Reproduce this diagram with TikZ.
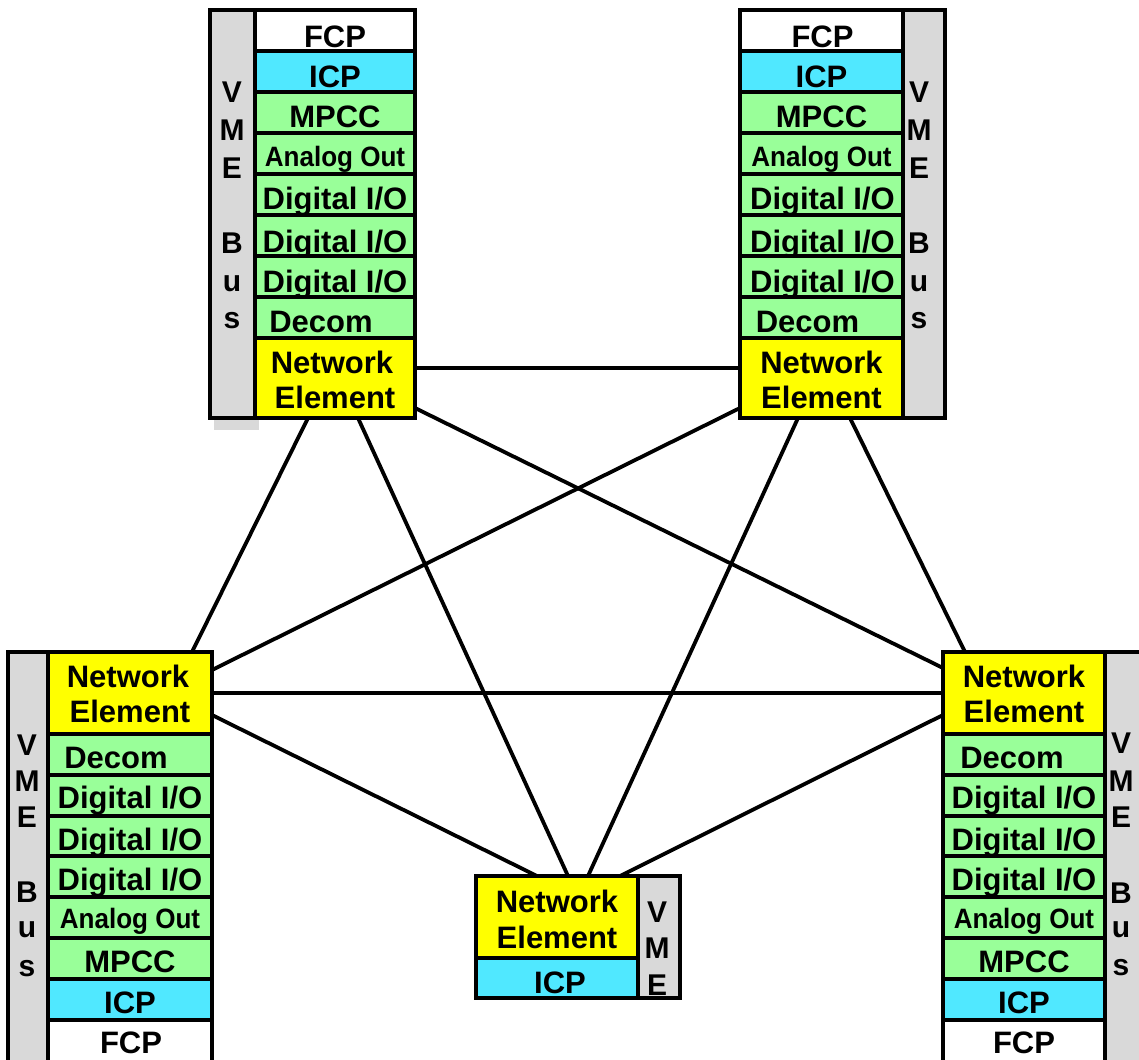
\documentclass[tikz,border=0pt]{standalone}
\usepackage{fontspec}
\usepackage{graphicx}
\setmainfont{Liberation Sans}
\usetikzlibrary{backgrounds}
\definecolor{fcpwhite}{RGB}{255,255,255}
\definecolor{icpcyan}{RGB}{80,232,255}
\definecolor{modgreen}{RGB}{153,255,153}
\definecolor{neyellow}{RGB}{255,255,0}
\definecolor{busgray}{RGB}{217,217,217}
\newcommand\cardfont{\fontsize{31}{37}\selectfont\bfseries}
\newcommand\anafont{\fontsize{28}{34}\selectfont\bfseries}
\newcommand\busfont{\fontsize{30}{36}\selectfont\bfseries}
\newcommand\ana{\scalebox{0.93}[1]{\anafont Analog Out}}
\tikzset{
  cardbox/.style={draw=black, line width=4.5pt, inner sep=0pt, outer sep=0pt},
  cardtxt/.style={font=\cardfont, inner sep=0pt, text=black},
  busbar/.style={draw=black, line width=4.5pt, fill=busgray, inner sep=0pt, outer sep=0pt, anchor=north west},
  busltr/.style={font=\busfont, inner sep=0pt, anchor=base},
  link/.style={line width=3.8pt, draw=black},
}
% name, x, ytop, width, height, fill, baseline offset, text, xshift
\newcommand\mkcard[9]{%
  \node[cardbox, fill=#6, minimum width=#4pt, minimum height=#5pt, anchor=north west] (#1) at (#2,#3) {};
  \node[cardtxt, anchor=base] (#1t) at ([xshift=#9pt, yshift=-#7pt]#1.north) {#8};}
\begin{document}
\begin{tikzpicture}[x=1pt, y=-1pt]
\useasboundingbox (0,0) rectangle (1139,1059);

% ---------- top-left stack ----------
\fill[busgray] (214,18) rectangle (259,430);
\node[busbar, minimum width=47pt, minimum height=408pt] (tlbus) at (210,10) {};
\foreach \l/\yy [count=\i] in {V/103,M/141,E/179,B/254,u/291,s/328}
  \node[busltr] (tlb\i) at (232,\yy) {\l};
\mkcard{tl1}{255}{10}{160}{41}{fcpwhite}{38}{FCP}{0}
\mkcard{tl2}{255}{51}{160}{41}{icpcyan}{37}{ICP}{0}
\mkcard{tl3}{255}{92}{160}{41}{modgreen}{36}{MPCC}{0}
\mkcard{tl4}{255}{133}{160}{41}{modgreen}{34}{\ana}{0}
\mkcard{tl5}{255}{174}{160}{41}{modgreen}{36}{Digital I/O}{0}
\mkcard{tl6}{255}{215}{160}{41}{modgreen}{37}{Digital I/O}{0}
\mkcard{tl7}{255}{256}{160}{41}{modgreen}{36}{Digital I/O}{0}
\mkcard{tl8}{255}{297}{160}{41}{modgreen}{35}{Decom}{-14}
\mkcard{tlne}{255}{338}{160}{80}{neyellow}{35}{Network}{-3}
\node[cardtxt, anchor=base] (tlnee) at ([yshift=-70pt]tlne.north) {Element};

% ---------- top-right stack ----------
\node[busbar, minimum width=44pt, minimum height=408pt] (trbus) at (901,10) {};
\foreach \l/\yy [count=\i] in {V/103,M/141,E/179,B/254,u/291,s/328}
  \node[busltr] (trb\i) at (919,\yy) {\l};
\mkcard{tr1}{740}{10}{163}{41}{fcpwhite}{38}{FCP}{1}
\mkcard{tr2}{740}{51}{163}{41}{icpcyan}{37}{ICP}{0}
\mkcard{tr3}{740}{92}{163}{41}{modgreen}{36}{MPCC}{0}
\mkcard{tr4}{740}{133}{163}{41}{modgreen}{34}{\ana}{0}
\mkcard{tr5}{740}{174}{163}{41}{modgreen}{36}{Digital I/O}{1}
\mkcard{tr6}{740}{215}{163}{41}{modgreen}{37}{Digital I/O}{1}
\mkcard{tr7}{740}{256}{163}{41}{modgreen}{36}{Digital I/O}{1}
\mkcard{tr8}{740}{297}{163}{41}{modgreen}{35}{Decom}{-14}
\mkcard{trne}{740}{338}{163}{80}{neyellow}{35}{Network}{0}
\node[cardtxt, anchor=base] (trnee) at ([yshift=-70pt]trne.north) {Element};

% ---------- bottom-left stack ----------
\node[busbar, minimum width=42pt, minimum height=420pt] (blbus) at (8,652) {};
\foreach \l/\yy [count=\i] in {V/755,M/791,E/827,B/902,u/937,s/976}
  \node[busltr] (blb\i) at (27,\yy) {\l};
\mkcard{blne}{48}{652}{164}{82}{neyellow}{35}{Network}{-2}
\node[cardtxt, anchor=base] (blnee) at ([yshift=-70pt]blne.north) {Element};
\mkcard{bl1}{48}{734}{164}{41}{modgreen}{34}{Decom}{-14}
\mkcard{bl2}{48}{775}{164}{41}{modgreen}{33}{Digital I/O}{0}
\mkcard{bl3}{48}{816}{164}{40}{modgreen}{34}{Digital I/O}{0}
\mkcard{bl4}{48}{856}{164}{41}{modgreen}{34}{Digital I/O}{0}
\mkcard{bl5}{48}{897}{164}{41}{modgreen}{31}{\ana}{0}
\mkcard{bl6}{48}{938}{164}{41}{modgreen}{34}{MPCC}{0}
\mkcard{bl7}{48}{979}{164}{41}{icpcyan}{34}{ICP}{0}
\mkcard{bl8}{48}{1020}{164}{50}{fcpwhite}{33}{FCP}{1}

% ---------- bottom-right stack ----------
\node[busbar, minimum width=44pt, minimum height=420pt] (brbus) at (1103,652) {};
\foreach \l/\yy [count=\i] in {V/753,M/791,E/827,B/903,u/937,s/975}
  \node[busltr] (brb\i) at (1121,\yy) {\l};
\mkcard{brne}{943}{652}{162}{82}{neyellow}{35}{Network}{0}
\node[cardtxt, anchor=base] (brnee) at ([yshift=-70pt]brne.north) {Element};
\mkcard{br1}{943}{734}{162}{41}{modgreen}{34}{Decom}{-12}
\mkcard{br2}{943}{775}{162}{41}{modgreen}{33}{Digital I/O}{0}
\mkcard{br3}{943}{816}{162}{40}{modgreen}{34}{Digital I/O}{0}
\mkcard{br4}{943}{856}{162}{41}{modgreen}{34}{Digital I/O}{0}
\mkcard{br5}{943}{897}{162}{41}{modgreen}{31}{\ana}{0}
\mkcard{br6}{943}{938}{162}{41}{modgreen}{34}{MPCC}{0}
\mkcard{br7}{943}{979}{162}{41}{icpcyan}{34}{ICP}{0}
\mkcard{br8}{943}{1020}{162}{50}{fcpwhite}{33}{FCP}{0}

% ---------- bottom-centre stack ----------
\node[busbar, minimum width=42pt, minimum height=122pt] (cbus) at (638,876) {};
\foreach \l/\yy [count=\i] in {V/922,M/958,E/995}
  \node[busltr] (cb\i) at (657,\yy) {\l};
\mkcard{cne}{476}{876}{162}{82}{neyellow}{36}{Network}{0}
\node[cardtxt, anchor=base] (cnee) at ([yshift=-72pt]cne.north) {Element};
\mkcard{c1}{476}{958}{162}{40}{icpcyan}{35}{ICP}{3}

% ---------- connectors ----------
\begin{pgfonlayer}{background}
\draw[link] ([yshift=10pt]tlne.east) -- ([yshift=10pt]trne.west);
\draw[link] ([xshift=-27pt]tlne.south) -- ([xshift=62pt]blne.north);
\draw[link] ([xshift=23pt]tlne.south) -- ([xshift=11pt]cne.north);
\draw[link] ([yshift=-30pt]tlne.east) -- ([yshift=25pt]brne.west);
\draw[link] ([yshift=-30pt]trne.west) -- ([yshift=23pt]blne.east);
\draw[link] ([xshift=-23.5pt]trne.south) -- ([xshift=31pt]cne.north);
\draw[link] ([xshift=28.5pt]trne.south) -- ([xshift=-59pt]brne.north);
\draw[link] (blne.east) -- (brne.west);
\draw[link] ([yshift=-22pt]blne.east) -- ([xshift=-20pt]cne.north);
\draw[link] ([yshift=-22pt]brne.west) -- ([xshift=63pt]cne.north);
\end{pgfonlayer}
\end{tikzpicture}
\end{document}
